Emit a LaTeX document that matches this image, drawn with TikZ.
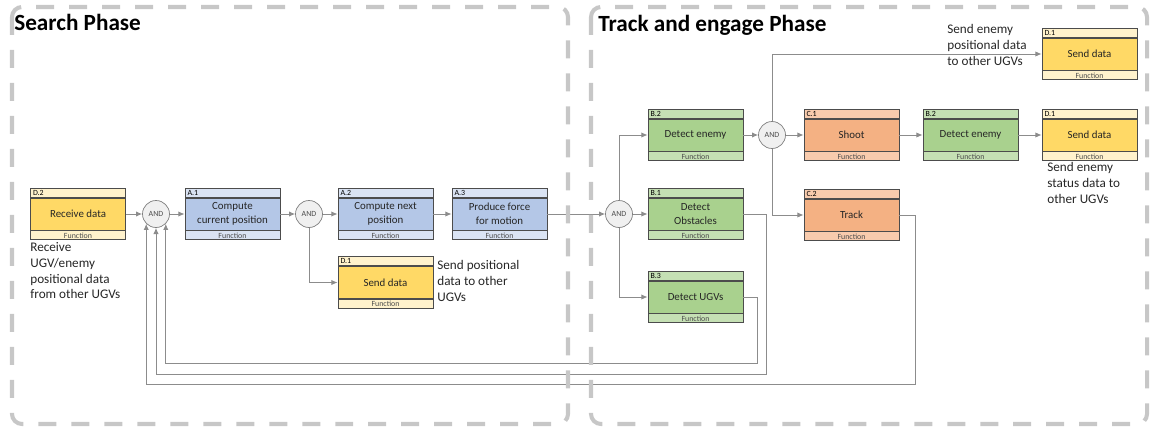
\documentclass[tikz,border=0pt]{standalone}
\usepackage{fontspec}
\setmainfont{Carlito}
\usetikzlibrary{positioning,arrows.meta}
% Box colours
\definecolor{ylw}{HTML}{FFD966}
\definecolor{ylwl}{HTML}{FFF2CC}
\definecolor{blu}{HTML}{B4C7E7}
\definecolor{blul}{HTML}{DAE3F3}
\definecolor{grn}{HTML}{A9D18E}
\definecolor{grnl}{HTML}{C5E0B4}
\definecolor{org}{HTML}{F4B183}
\definecolor{orgl}{HTML}{F8CBAD}
\tikzset{
  fmain/.style={draw=black!70, line width=0.5pt, minimum width=1.9cm, minimum height=0.64cm,
    inner sep=1pt, align=center, text=black!85, font=\fontsize{6.2}{7.8}\selectfont},
  fhead/.style={draw=black!70, line width=0.5pt, minimum width=1.9cm, minimum height=0.18cm,
    inner sep=0pt, text width=1.8cm, align=left, font=\fontsize{4.5}{4.5}\selectfont},
  ffoot/.style={draw=black!70, line width=0.5pt, minimum width=1.9cm, minimum height=0.18cm,
    inner sep=0pt, align=center, text=black!70, font=\fontsize{4.5}{4.5}\selectfont},
  andgate/.style={circle, draw=black!50, fill=black!6, minimum size=0.54cm, inner sep=0pt,
    text=black!70, font=\fontsize{4.5}{5}\selectfont},
  conn/.style={draw=black!45, line width=0.5pt, -{Latex[length=3.5pt,width=3pt]}},
  note/.style={anchor=north west, align=left, inner sep=0pt, text=black!85,
    font=\fontsize{7.5}{9}\selectfont},
  phase/.style={draw=black!22, line width=2.3pt, dash pattern=on 0.36cm off 0.3cm,
    rounded corners=0.2cm},
  title/.style={anchor=west, inner sep=0pt, font=\fontsize{13.2}{15}\selectfont\bfseries}
}
% function box: name, position, id, label, colour
\newcommand{\funcbox}[5]{%
  \node[fmain, fill=#5] (#1) at (#2) {#4};
  \node[fhead, fill=#5l, above=0pt of #1] (#1h) {#3};
  \node[ffoot, fill=#5l, below=0pt of #1] (#1f) {Function};
}
\begin{document}
\begin{tikzpicture}[x=0.02cm, y=-0.02cm]
  \useasboundingbox (0,0) rectangle (1151,429);
  \node[title] (searcht) at (14,22) {Search Phase};
  \node[title] (trackt) at (598,25) {Track and engage Phase};
  % Search phase
  \funcbox{d2}{78,214}{D.2}{Receive data}{ylw}
  \node[andgate] (and1) at (156,214) {AND};
  \funcbox{a1}{232.5,214}{A.1}{Compute\\current position}{blu}
  \node[andgate] (and2) at (309,214) {AND};
  \funcbox{a2}{385.5,214}{A.2}{Compute next\\position}{blu}
  \funcbox{a3}{499.5,214}{A.3}{Produce force\\for motion}{blu}
  \funcbox{d1a}{385.5,282.5}{D.1}{Send data}{ylw}
  \node[note] (rnote) at (30,242) {Receive\\UGV/enemy\\positional data\\from other UGVs};
  \node[note] (snote) at (437,260) {Send positional\\data to other\\UGVs};
  % Track and engage phase
  \node[andgate] (and3) at (619,214) {AND};
  \funcbox{b2}{695.5,135}{B.2}{Detect enemy}{grn}
  \funcbox{b1}{695.5,214}{B.1}{Detect\\Obstacles}{grn}
  \funcbox{b3}{695.5,297}{B.3}{Detect UGVs}{grn}
  \node[andgate] (and4) at (772,135) {AND};
  \funcbox{c1}{851.5,135}{C.1}{Shoot}{org}
  \funcbox{c2}{851.5,215}{C.2}{Track}{org}
  \funcbox{b2b}{970.5,135}{B.2}{Detect enemy}{grn}
  \funcbox{d1b}{1089.5,135}{D.1}{Send data}{ylw}
  \funcbox{d1c}{1089.5,54}{D.1}{Send data}{ylw}
  \node[note] (pnote) at (947,24) {Send enemy\\positional data\\to other UGVs};
  \node[note] (enote) at (1047,162) {Send enemy\\status data to\\other UGVs};
  % Connectors
  \draw[conn] (d2) -- (and1);
  \draw[conn] (and1) -- (a1);
  \draw[conn] (a1) -- (and2);
  \draw[conn] (and2) -- (a2);
  \draw[conn] (and2.south) |- (d1a.west);
  \draw[conn] (a2) -- (a3);
  \draw[conn] (a3) -- (and3);
  \draw[conn] (and3.north) |- (b2.west);
  \draw[conn] (and3) -- (b1);
  \draw[conn] (and3.south) |- (b3.west);
  \draw[conn] (b2) -- (and4);
  \draw[conn] (and4) -- (c1);
  \draw[conn] (and4.south) |- (c2.west);
  \draw[conn] (and4.north) |- (d1c.west);
  \draw[conn] (c1) -- (b2b);
  \draw[conn] (b2b) -- (d1b);
  % Feedback
  \draw[conn] (b3.east) -| (757,363) -| (and1.-45);
  \draw[conn] (b1.east) -| (766,374) -| (and1.-90);
  \draw[conn] (c2.east) -| (915,384) -| (and1.-135);
  % Phases
  \draw[phase] (12,7) rectangle (568,424);
  \draw[phase] (591,7) rectangle (1147,424);
\end{tikzpicture}
\end{document}
